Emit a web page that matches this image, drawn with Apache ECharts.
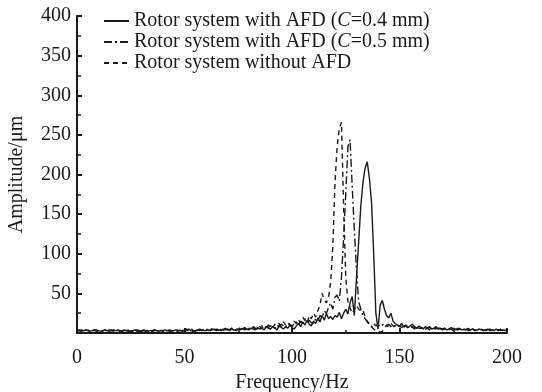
<!DOCTYPE html>
<html>
<head>
<meta charset="utf-8">
<script src="https://cdn.jsdelivr.net/npm/echarts@6/dist/echarts.min.js"></script>
<style>
  html, body { margin: 0; padding: 0; background: #fff; }
  #chart { width: 542px; height: 392px; }
</style>
</head>
<body>
<div id="chart"></div>
<script>
// frequency grid, Hz (1 Hz step)
var freqs = [];
for (var f = 0; f <= 200; f++) freqs.push(f);

// amplitude, um — rotor system with AFD (C=0.4 mm), solid
var ampC04 = [
  4,3,2,3,4,3,2,3,3,4,
  3,2,3,4,3,2,3,4,3,3,
  2,3,4,3,3,2,3,4,3,2,
  3,4,3,2,3,3,4,3,2,3,
  3,4,3,3,2,3,4,3,3,2,
  3,4,5,3,2,3,4,3,4,3,
  3,4,3,5,4,3,4,3,5,4,
  4,3,5,4,3,5,4,6,4,5,
  4,6,5,4,7,5,6,4,8,6,
  5,8,6,4,9,7,5,8,6,10,
  7,5,9,12,8,14,10,16,11,9,
  15,12,19,14,22,16,25,18,21,17,
  22,20,26,18,25,30,24,38,46,22,
  70,115,160,190,208,216,195,165,100,25,
  5,35,41,30,22,19,25,15,12,10,
  9,12,8,10,7,9,11,8,6,9,
  7,5,8,6,7,5,6,8,5,6,
  5,6,4,5,7,5,4,6,5,4,
  5,4,6,4,5,3,4,5,4,3,
  4,5,3,4,3,5,4,3,4,3,3
];

// rotor system with AFD (C=0.5 mm), dash-dot
var ampC05 = [
  2,3,4,3,3,4,2,3,4,2,
  3,4,2,3,3,4,3,2,3,4,
  4,2,3,3,4,3,2,3,4,3,
  2,3,4,3,3,2,4,3,3,4,
  3,2,3,4,3,3,2,4,3,3,
  4,3,3,5,4,3,3,5,4,3,
  4,5,3,4,5,4,6,4,4,5,
  5,4,6,5,4,6,5,5,7,4,
  6,5,8,6,5,7,9,6,8,7,
  9,7,6,10,8,11,9,7,12,10,
  8,12,14,10,15,12,18,14,16,13,
  12,18,15,22,20,28,25,32,38,30,
  45,48,40,70,120,175,235,244,185,130,
  80,40,30,22,18,15,10,8,12,9,
  11,8,10,12,9,11,8,10,9,7,
  9,7,8,10,7,6,8,7,6,8,
  6,7,5,6,8,5,6,5,7,5,
  5,6,4,5,4,6,5,4,5,4,
  4,5,3,4,5,4,3,5,4,4,
  3,4,5,3,4,3,4,4,3,4,3
];

// rotor system without AFD, dashed
var ampNoAFD = [
  3,4,3,2,4,3,3,2,4,3,
  2,3,3,4,2,3,4,3,2,4,
  3,2,4,3,2,3,3,4,2,3,
  4,3,2,3,4,2,3,3,4,3,
  2,3,4,2,3,4,3,2,4,3,
  3,5,3,4,3,2,5,4,3,4,
  5,3,4,6,3,5,4,5,3,6,
  4,5,6,3,6,4,7,5,6,5,
  4,5,7,5,6,8,6,9,7,10,
  8,6,11,9,12,8,14,10,13,11,
  9,15,12,17,13,20,16,12,22,18,
  25,20,28,35,50,42,38,45,65,110,
  190,235,258,266,160,70,40,32,25,30,
  35,30,28,29,20,14,12,8,5,3,
  2,1,2,6,10,8,12,9,7,10,
  8,10,7,9,6,8,7,5,8,6,
  6,7,5,6,4,6,5,7,4,5,
  4,5,6,4,5,3,5,4,6,4,
  3,5,4,3,5,4,3,4,5,3,
  4,3,5,3,4,4,3,5,3,4,3
];

var seriesNames = [
  'Rotor system with AFD (C=0.4 mm)',
  'Rotor system with AFD (C=0.5 mm)',
  'Rotor system without AFD'
];
var legendLabels = {};
legendLabels[seriesNames[0]] = '{n|Rotor system with AFD (}{i|C}{n|=0.4 mm)}';
legendLabels[seriesNames[1]] = '{n|Rotor system with AFD (}{i|C}{n|=0.5 mm)}';
legendLabels[seriesNames[2]] = '{n|Rotor system without AFD}';

var serif = '"Liberation Serif", "DejaVu Serif", serif';
var ink = '#1a1a1a';
var fs = 20;

function pairs(amps) {
  return freqs.map(function (f, i) { return [f, amps[i]]; });
}

function lineSeries(name, amps, dash) {
  return {
    name: name,
    type: 'line',
    data: pairs(amps),
    symbol: 'none',
    smooth: false,
    lineStyle: { color: ink, width: 1.4, type: dash },
    itemStyle: { color: ink }
  };
}

var chart = echarts.init(document.getElementById('chart'));
var option = {
  backgroundColor: '#fff',
  animation: false,
  grid: { left: 77, right: 35, top: 16, bottom: 59, containLabel: false, outerBoundsMode: 'none' },
  legend: {
    orient: 'vertical',
    left: 98,
    top: 6,
    itemWidth: 25,
    itemHeight: 10,
    itemGap: 1,
    data: seriesNames,
    itemStyle: { opacity: 0 },
    formatter: function (name) { return legendLabels[name]; },
    textStyle: {
      color: ink,
      rich: {
        n: { fontFamily: serif, fontSize: fs, color: ink },
        i: { fontFamily: serif, fontSize: fs, color: ink, fontStyle: 'italic' }
      }
    }
  },
  xAxis: {
    type: 'value',
    min: 0,
    max: 200,
    interval: 50,
    name: 'Frequency/Hz',
    nameLocation: 'middle',
    nameGap: 33,
    nameTextStyle: { fontFamily: serif, fontSize: fs, color: ink },
    axisLine: { lineStyle: { color: ink, width: 2 } },
    axisTick: { inside: true, length: 5, lineStyle: { color: ink, width: 2 } },
    minorTick: { show: true, splitNumber: 2, length: 3, lineStyle: { color: ink, width: 1.5 } },
    axisLabel: { fontFamily: serif, fontSize: 20, color: ink, margin: 15 },
    splitLine: { show: false }
  },
  yAxis: {
    type: 'value',
    min: 0,
    max: 400,
    interval: 50,
    name: 'Amplitude/\u03bcm',
    nameLocation: 'middle',
    nameGap: 50,
    nameTextStyle: { fontFamily: serif, fontSize: fs, color: ink },
    axisLine: { show: true, lineStyle: { color: ink, width: 2 } },
    axisTick: { show: true, inside: true, length: 5, lineStyle: { color: ink, width: 2 } },
    minorTick: { show: true, splitNumber: 2, length: 4, lineStyle: { color: ink, width: 1.5 } },
    axisLabel: {
      fontFamily: serif, fontSize: 20, color: ink, margin: 6,
      formatter: function (v) { return v === 0 ? '' : v; }
    },
    splitLine: { show: false }
  },
  series: [
    lineSeries(seriesNames[0], ampC04, 'solid'),
    lineSeries(seriesNames[1], ampC05, [8, 3, 2, 3]),
    lineSeries(seriesNames[2], ampNoAFD, [5, 4])
  ]
};
chart.setOption(option);
window.addEventListener('resize', function () { chart.resize(); });
</script>
</body>
</html>
